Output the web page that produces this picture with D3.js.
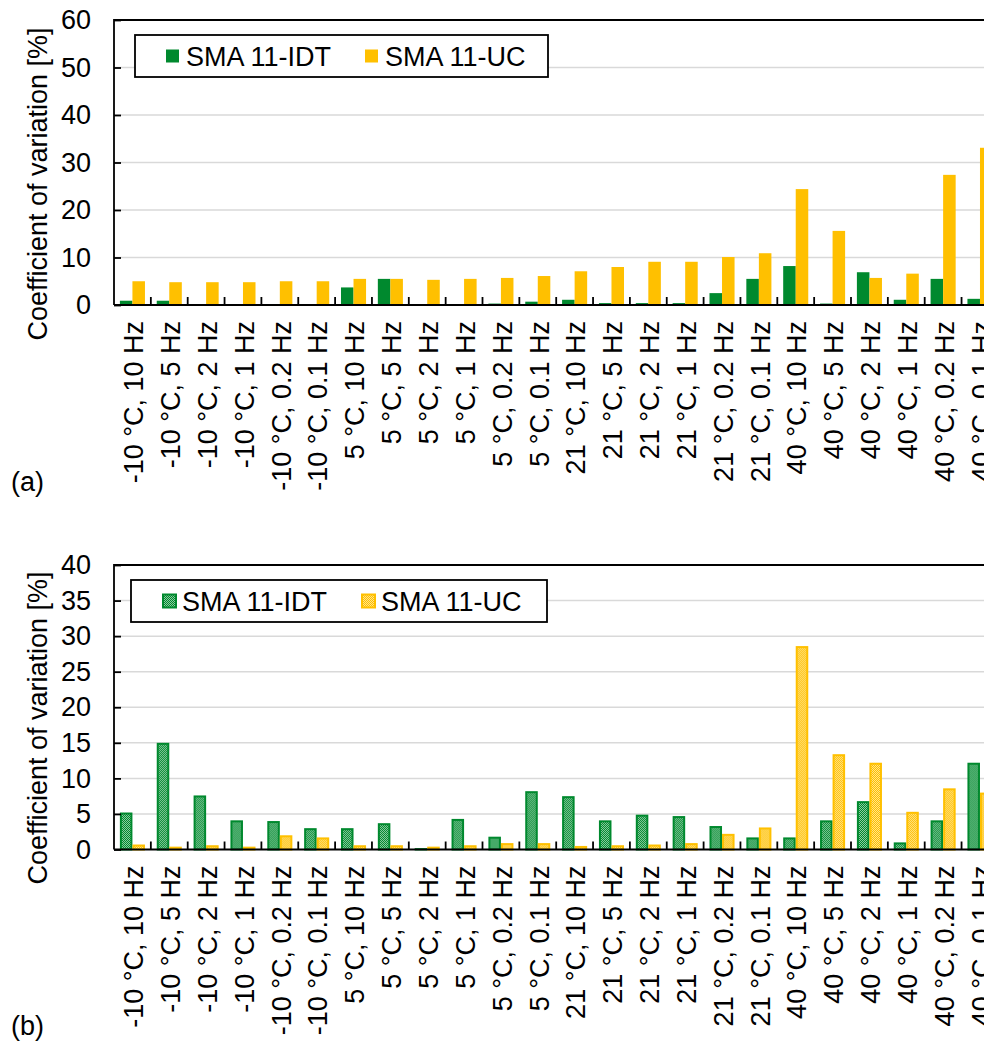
<!DOCTYPE html>
<html lang="en">
  <head>
    <meta charset="utf-8" />
    <title>Coefficient of variation</title>
    <style>
      html, body { margin: 0; padding: 0; background: #fff; }
      svg { display: block; font-family: 'Liberation Sans', Arial, sans-serif; }
      .grid line { stroke: #d9d9d9; stroke-width: 1.5; }
    </style>
  </head>
  <body>
    <svg></svg>
    <script src="https://cdn.jsdelivr.net/npm/d3@7"></script>
    <script>
      // categories (temperature, frequency)
      const categories = [
        '-10 °C, 10 Hz', '-10 °C, 5 Hz', '-10 °C, 2 Hz', '-10 °C, 1 Hz', '-10 °C, 0.2 Hz', '-10 °C, 0.1 Hz',
        '5 °C, 10 Hz', '5 °C, 5 Hz', '5 °C, 2 Hz', '5 °C, 1 Hz', '5 °C, 0.2 Hz', '5 °C, 0.1 Hz',
        '21 °C, 10 Hz', '21 °C, 5 Hz', '21 °C, 2 Hz', '21 °C, 1 Hz', '21 °C, 0.2 Hz', '21 °C, 0.1 Hz',
        '40 °C, 10 Hz', '40 °C, 5 Hz', '40 °C, 2 Hz', '40 °C, 1 Hz', '40 °C, 0.2 Hz', '40 °C, 0.1 Hz'
      ]
      const seriesNames = ['SMA 11-IDT', 'SMA 11-UC']

      // (a)
      const idtA = [0.9, 0.9, 0, 0, 0, 0, 3.7, 5.5, 0.2, 0.2, 0.3, 0.7, 1.1, 0.4, 0.4, 0.4, 2.5, 5.5, 8.2, 0.3, 6.9, 1.1, 5.5, 1.3]
      const ucA = [5.0, 4.8, 4.8, 4.8, 5.0, 5.0, 5.5, 5.5, 5.3, 5.5, 5.7, 6.1, 7.1, 8.0, 9.1, 9.1, 10.1, 10.9, 24.4, 15.6, 5.7, 6.6, 27.4, 33.1]
      // (b)
      const idtB = [5.2, 15.0, 7.6, 4.1, 4.0, 3.0, 3.0, 3.7, 0.2, 4.3, 1.8, 8.2, 7.5, 4.1, 4.9, 4.7, 3.3, 1.7, 1.7, 4.1, 6.8, 1.0, 4.1, 12.2]
      const ucB = [0.7, 0.4, 0.6, 0.4, 2.0, 1.7, 0.6, 0.6, 0.4, 0.6, 0.9, 0.9, 0.5, 0.6, 0.7, 0.9, 2.2, 3.1, 28.6, 13.4, 12.2, 5.3, 8.6, 8.0]

      const ticksA = [0, 10, 20, 30, 40, 50, 60]
      const ticksB = [0, 5, 10, 15, 20, 25, 30, 35, 40]

      const colors = ['#00892e', '#ffc000']
      const width = 984, height = 1042
      const fontSize = 27

      const svg = d3.select('svg').attr('width', width).attr('height', height)

      // dotted-grid patterns for the (b) bars
      const defs = svg.append('defs')
      colors.forEach((c, i) => {
        const p = defs.append('pattern')
          .attr('id', 'pat' + i)
          .attr('patternUnits', 'userSpaceOnUse')
          .attr('width', 2).attr('height', 2)
        p.append('rect').attr('width', 2).attr('height', 2).attr('fill', c)
        p.append('rect').attr('x', 1).attr('y', 0).attr('width', 1).attr('height', 1).attr('fill', '#fff').attr('opacity', 0.55)
        p.append('rect').attr('x', 0).attr('y', 1).attr('width', 1).attr('height', 1).attr('fill', '#fff').attr('opacity', 0.55)
      })

      function drawChart(opt) {
        const g = svg.append('g')
        const left = 114, right = 998.4

        const x0 = d3.scaleBand().domain(categories).range([left, right])
        const x1 = d3.scaleBand().domain(seriesNames).range([0, x0.bandwidth()]).paddingOuter(0.47)
        const y = d3.scaleLinear().domain([0, opt.max]).range([opt.bottom, opt.top])

        // gridlines
        g.append('g').attr('class', 'grid')
          .selectAll('line')
          .data(opt.ticks.filter((t) => t > 0 && t < opt.max))
          .join('line')
          .attr('x1', left).attr('x2', right)
          .attr('y1', (d) => y(d)).attr('y2', (d) => y(d))

        // bars
        const rows = categories.map((c, i) => ({ cat: c, vals: [opt.a[i], opt.b[i]] }))
        const grp = g.append('g').selectAll('g').data(rows).join('g')
          .attr('transform', (d) => `translate(${x0(d.cat)},0)`)
        grp.selectAll('rect')
          .data((d) => d.vals.map((v, k) => ({ k, v })))
          .join('rect')
          .each(function (d) {
            const r = d3.select(this)
            const bx = x1(seriesNames[d.k]), bw = x1.bandwidth()
            const h = opt.bottom - y(d.v)
            if (opt.hatched) {
              r.attr('x', bx + 1).attr('width', bw - 2)
                .attr('y', y(d.v) + 1).attr('height', Math.max(0, h - 1))
                .attr('fill', `url(#pat${d.k})`)
                .attr('stroke', colors[d.k]).attr('stroke-width', 2)
            } else {
              r.attr('x', bx).attr('width', bw)
                .attr('y', y(d.v)).attr('height', h)
                .attr('fill', colors[d.k])
            }
          })

        // frame (top + left)
        g.append('path')
          .attr('d', `M${left},${opt.bottom}V${opt.top}H${right}`)
          .attr('fill', 'none').attr('stroke', '#000').attr('stroke-width', 1.8)

        // y axis
        g.append('g')
          .attr('transform', `translate(${left},0)`)
          .call(d3.axisLeft(y).tickValues(opt.ticks).tickSize(-7).tickPadding(23))
          .call((a) => a.select('.domain').remove())
          .call((a) => a.selectAll('.tick line').attr('stroke', '#000').attr('stroke-width', 1.8))
          .call((a) => a.selectAll('.tick text')
            .attr('font-size', fontSize).attr('font-family', 'Liberation Sans, Arial, sans-serif')
            .attr('fill', '#000'))

        // x axis baseline + ticks at category boundaries
        g.append('line')
          .attr('x1', left).attr('x2', right)
          .attr('y1', opt.bottom).attr('y2', opt.bottom)
          .attr('stroke', '#000').attr('stroke-width', 2)
        g.append('g').selectAll('line')
          .data(categories)
          .join('line')
          .attr('x1', (d) => x0(d) + x0.step()).attr('x2', (d) => x0(d) + x0.step())
          .attr('y1', opt.bottom).attr('y2', opt.bottom - 8)
          .attr('stroke', '#000').attr('stroke-width', 1.8)

        // x labels
        g.append('g').selectAll('text')
          .data(categories)
          .join('text')
          .attr('transform', (d) => `translate(${x0(d) + x0.bandwidth() / 2 + 1},${opt.bottom + 16}) rotate(-90)`)
          .attr('text-anchor', 'end')
          .attr('dy', '0.36em')
          .attr('font-size', fontSize)
          .attr('fill', '#000')
          .text((d) => d)

        // y title
        g.append('text')
          .attr('transform', `translate(47,${opt.titleY}) rotate(-90)`)
          .attr('text-anchor', 'middle')
          .attr('font-size', fontSize)
          .attr('fill', '#000')
          .text('Coefficient of variation [%]')

        // panel letter
        g.append('text')
          .attr('x', 11).attr('y', opt.letterY)
          .attr('font-size', fontSize)
          .attr('fill', '#000')
          .text(opt.letter)

        // legend
        const L = opt.legend
        const lg = g.append('g')
        lg.append('rect')
          .attr('x', L.x).attr('y', L.y).attr('width', L.w).attr('height', L.h)
          .attr('fill', '#fff').attr('stroke', '#000').attr('stroke-width', 1.8)
        seriesNames.forEach((s, k) => {
          const sx = L.items[k]
          if (opt.hatched) {
            lg.append('rect')
              .attr('x', sx + 1).attr('y', L.y + L.h / 2 - 6.5).attr('width', 13).attr('height', 13)
              .attr('fill', `url(#pat${k})`).attr('stroke', colors[k]).attr('stroke-width', 2)
          } else {
            lg.append('rect')
              .attr('x', sx).attr('y', L.y + L.h / 2 - 6.5).attr('width', 13).attr('height', 13)
              .attr('fill', colors[k])
          }
          lg.append('text')
            .attr('x', sx + 20).attr('y', L.y + L.h / 2)
            .attr('dy', '0.36em')
            .attr('font-size', fontSize)
            .attr('fill', '#000')
            .text(s)
        })
      }

      drawChart({
        a: idtA, b: ucA, max: 60, ticks: ticksA,
        top: 20, bottom: 305, hatched: false,
        titleY: 184, letter: '(a)', letterY: 491,
        legend: { x: 135, y: 35, w: 413, h: 42, items: [166, 365] }
      })

      drawChart({
        a: idtB, b: ucB, max: 40, ticks: ticksB,
        top: 565, bottom: 849.5, hatched: true,
        titleY: 728, letter: '(b)', letterY: 1035,
        legend: { x: 131, y: 580, w: 416, h: 42, items: [162, 361] }
      })
    </script>
  </body>
</html>
